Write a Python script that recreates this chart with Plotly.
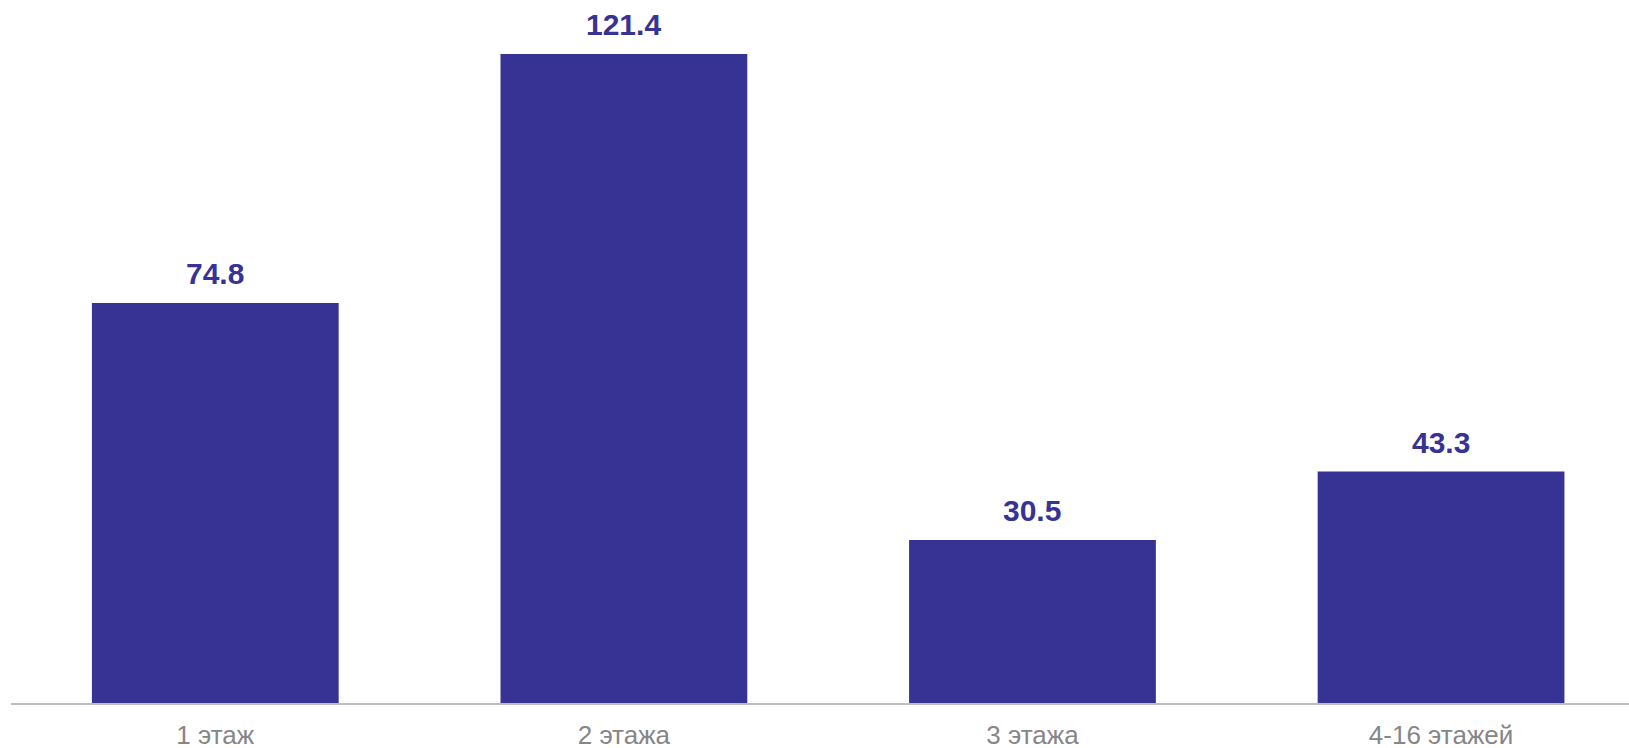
import plotly.graph_objects as go

categories = ["1 этаж", "2 этажа", "3 этажа", "4-16 этажей"]
values = [74.8, 121.4, 30.5, 43.3]
labels = ["74.8", "121.4", "30.5", "43.3"]

bar_color = "#363394"

fig = go.Figure()
fig.add_trace(go.Bar(
    x=categories,
    y=values,
    marker=dict(color=bar_color, line=dict(width=0)),
    hoverinfo="skip",
))

for c, v, t in zip(categories, values, labels):
    fig.add_annotation(
        x=c, y=v, text=t, showarrow=False,
        yanchor="bottom", yshift=11,
        font=dict(family="Liberation Sans, Arial, sans-serif", size=30, color=bar_color, weight="bold"),
    )

fig.update_layout(
    width=1629, height=748,
    margin=dict(l=11, r=0, t=0, b=45, autoexpand=False),
    paper_bgcolor="white",
    plot_bgcolor="white",
    bargap=0.396,
    showlegend=False,
    xaxis=dict(
        type="category",
        range=[-0.5, 3.46],
        automargin=False,
        showline=True, linecolor="#BFBFBF", linewidth=2,
        showgrid=False, zeroline=False,
        ticks="", ticklabelstandoff=8,
        tickfont=dict(family="Liberation Sans, Arial, sans-serif", size=26, color="#868686"),
    ),
    yaxis=dict(
        range=[0, 131.5],
        automargin=False,
        visible=False, showgrid=False, zeroline=False,
    ),
)

fig.write_html(
    "out.html",
    config={"displayModeBar": False},
    post_script="document.body.style.margin='0';document.body.style.overflow='hidden';",
)
